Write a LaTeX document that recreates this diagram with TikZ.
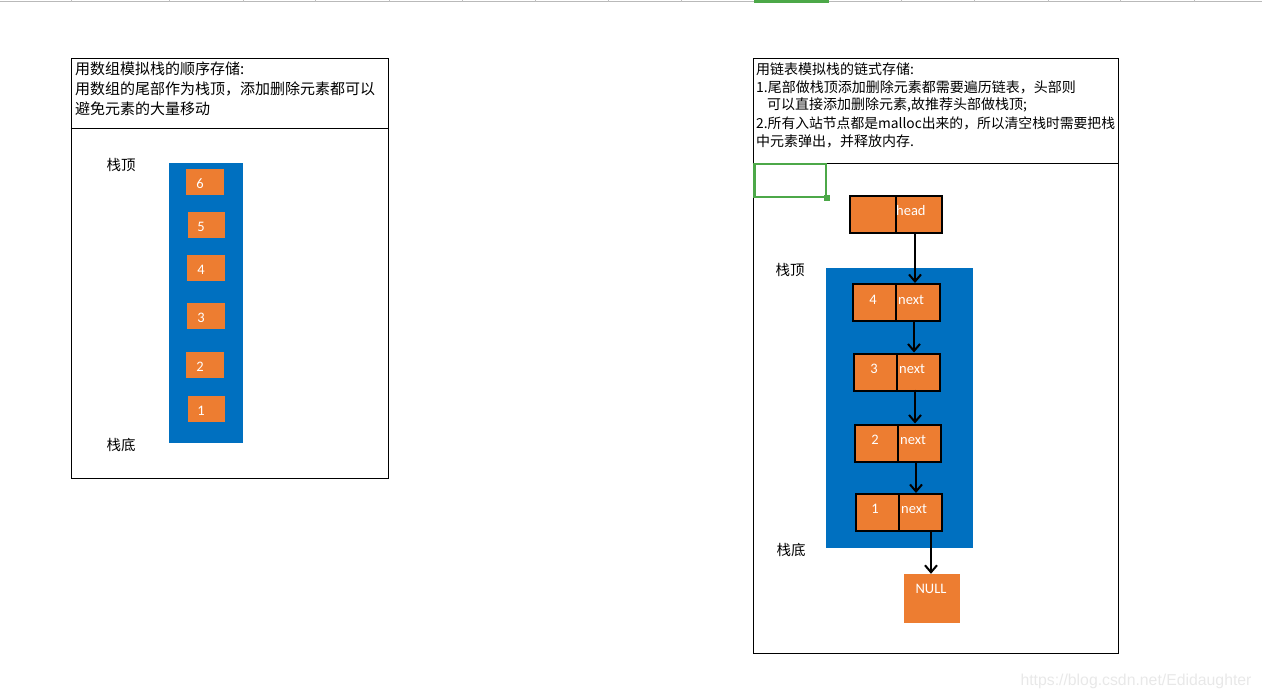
\documentclass[tikz,border=0pt]{standalone}
\usepackage{fontspec}
\setmainfont{Carlito}
\newfontfamily\cjk{Noto Sans CJK SC}
\newfontfamily\wmfont{Liberation Sans}
\usetikzlibrary{arrows.meta,calc}
\definecolor{sblue}{RGB}{0,112,192}
\definecolor{sorange}{RGB}{237,125,49}
\definecolor{sgreen}{RGB}{76,168,72}
\tikzset{
  frame/.style={draw=black, line width=1pt},
  ltxt/.style={anchor=west, inner sep=0pt, font=\cjk\fontsize{15}{18}\selectfont},
  rtxt/.style={anchor=west, inner sep=0pt, font=\cjk\fontsize{14}{17}\selectfont},
  side/.style={inner sep=0pt, font=\cjk\fontsize{14.5}{17}\selectfont},
  cell/.style={fill=sorange, draw=none, inner sep=0pt},
  lcell/.style={fill=sorange, draw=black, line width=2pt, inner sep=0pt, minimum height=37pt},
  wtxt/.style={text=white, inner sep=0pt, font=\fontsize{14.5}{17}\selectfont},
  arr/.style={line width=2pt, -{Straight Barb[length=7pt,width=12pt]}}
}
\begin{document}
\begin{tikzpicture}[x=1pt,y=-1pt]
\useasboundingbox (0,0) rectangle (1262,699);
% top strip
\draw[gray!55, line width=1pt] (0,1.5) -- (1262,1.5);
\foreach \t in {71,169,243,315,389,462,535,608,681,901,974,1048,1120,1194}
  \draw[gray!50, line width=0.6pt] (\t,0) -- (\t,2);
\fill[sgreen] (754,0) rectangle (829,3);

% ---------- left frame ----------
\node[frame, minimum width=317pt, minimum height=420pt, inner sep=0pt] (lframe) at (229.5,268) {};
\draw[frame] (lframe.west |- 0,128) -- (lframe.east |- 0,128);
\node[ltxt] (lt1) at (75,69) {用数组模拟栈的顺序存储:};
\node[ltxt] (lt2) at (75,89) {用数组的尾部作为栈顶，添加删除元素都可以};
\node[ltxt] (lt3) at (75,109) {避免元素的大量移动};
\node[side] (ltop) at (121,165) {栈顶};
\node[side] (lbot) at (121,445) {栈底};
\node[fill=sblue, minimum width=74pt, minimum height=280pt, inner sep=0pt] (lblue) at (206,303) {};
\node[cell, minimum width=38pt, minimum height=26pt] (a6) at (205,182) {};
\node[wtxt] (l6) at (200,184) {6};
\node[cell, minimum width=37pt, minimum height=26pt] (a5) at (206.5,225) {};
\node[wtxt] (l5) at (201,227) {5};
\node[cell, minimum width=38pt, minimum height=26pt] (a4) at (206,268) {};
\node[wtxt] (l4) at (201,270) {4};
\node[cell, minimum width=38pt, minimum height=26pt] (a3) at (206,316) {};
\node[wtxt] (l3) at (201,318) {3};
\node[cell, minimum width=38pt, minimum height=26pt] (a2) at (205,365) {};
\node[wtxt] (l2) at (200,367) {2};
\node[cell, minimum width=37pt, minimum height=26pt] (a1) at (206.5,409) {};
\node[wtxt] (l1) at (201,411) {1};

% ---------- right frame ----------
\node[frame, minimum width=365pt, minimum height=595pt, inner sep=0pt] (rframe) at (935.5,355.5) {};
\draw[frame] (rframe.west |- 0,163) -- (rframe.east |- 0,163);
\node[rtxt] (rt1) at (756,69) {用链表模拟栈的链式存储:};
\node[rtxt] (rt2) at (756,87) {1.尾部做栈顶添加删除元素都需要遍历链表，头部则};
\node[rtxt] (rt3) at (767,105) {可以直接添加删除元素,故推荐头部做栈顶;};
\node[rtxt, font=\cjk\fontsize{13.8}{17}\selectfont] (rt4) at (756,123) {2.所有入站节点都是malloc出来的，所以清空栈时需要把栈};
\node[rtxt] (rt5) at (756,141) {中元素弹出，并释放内存.};
% selected cell
\draw[sgreen, line width=2.5pt] (754.25,164) rectangle (826,197);
\fill[sgreen] (823.5,194.5) rectangle (830,201);

\node[side] (rtop) at (790,270) {栈顶};
\node[side] (rbot) at (791,550) {栈底};
\node[fill=sblue, minimum width=147pt, minimum height=280pt, inner sep=0pt] (rblue) at (899.5,408) {};

% head
\node[lcell, minimum width=46pt] (ha) at (873,214.5) {};
\node[lcell, minimum width=46pt] (hb) at (919,214.5) {};
\node[wtxt, anchor=west] (ht) at (896,211) {head};
% node 4
\node[lcell, minimum width=43pt] (n4a) at (874.5,302.5) {};
\node[lcell, minimum width=44pt] (n4b) at (918,302.5) {};
\node[wtxt] (n4l) at (873,300) {4};
\node[wtxt, anchor=west] (n4t) at (898,300) {next};
% node 3
\node[lcell, minimum width=43pt] (n3a) at (875.5,372) {};
\node[lcell, minimum width=43pt] (n3b) at (918.5,372) {};
\node[wtxt] (n3l) at (874,369) {3};
\node[wtxt, anchor=west] (n3t) at (899,369) {next};
% node 2
\node[lcell, minimum width=43pt] (n2a) at (876.5,443) {};
\node[lcell, minimum width=43pt] (n2b) at (919.5,443) {};
\node[wtxt] (n2l) at (875,440) {2};
\node[wtxt, anchor=west] (n2t) at (900,440) {next};
% node 1
\node[lcell, minimum width=43pt] (n1a) at (877.5,512.5) {};
\node[lcell, minimum width=43pt] (n1b) at (920.5,512.5) {};
\node[wtxt] (n1l) at (875,509) {1};
\node[wtxt, anchor=west] (n1t) at (901,509) {next};
% NULL
\node[cell, minimum width=56pt, minimum height=49pt] (null) at (932,598.5) {};
\node[wtxt] (nullt) at (931,589) {NULL};

% arrows
\draw[arr] ([xshift=-4pt]hb.south) -- ([xshift=-4pt]hb.south |- n4b.north);
\draw[arr] ([xshift=-4pt,yshift=2pt]n4b.south) -- ([xshift=-4pt]n4b.south |- n3b.north);
\draw[arr] ([xshift=-3.5pt,yshift=2pt]n3b.south) -- ([xshift=-3.5pt]n3b.south |- n2b.north);
\draw[arr] ([xshift=-3.5pt]n2b.south) -- ([xshift=-3.5pt]n2b.south |- n1b.north);
\draw[arr] ([xshift=10.5pt]n1b.south) -- ([xshift=10.5pt]n1b.south |- null.north);

% watermark
\node[inner sep=0pt, text=black!9, font=\wmfont\fontsize{15.8}{18}\selectfont] (wm) at (1136,681) {https://blog.csdn.net/Edidaughter};
\end{tikzpicture}
\end{document}
